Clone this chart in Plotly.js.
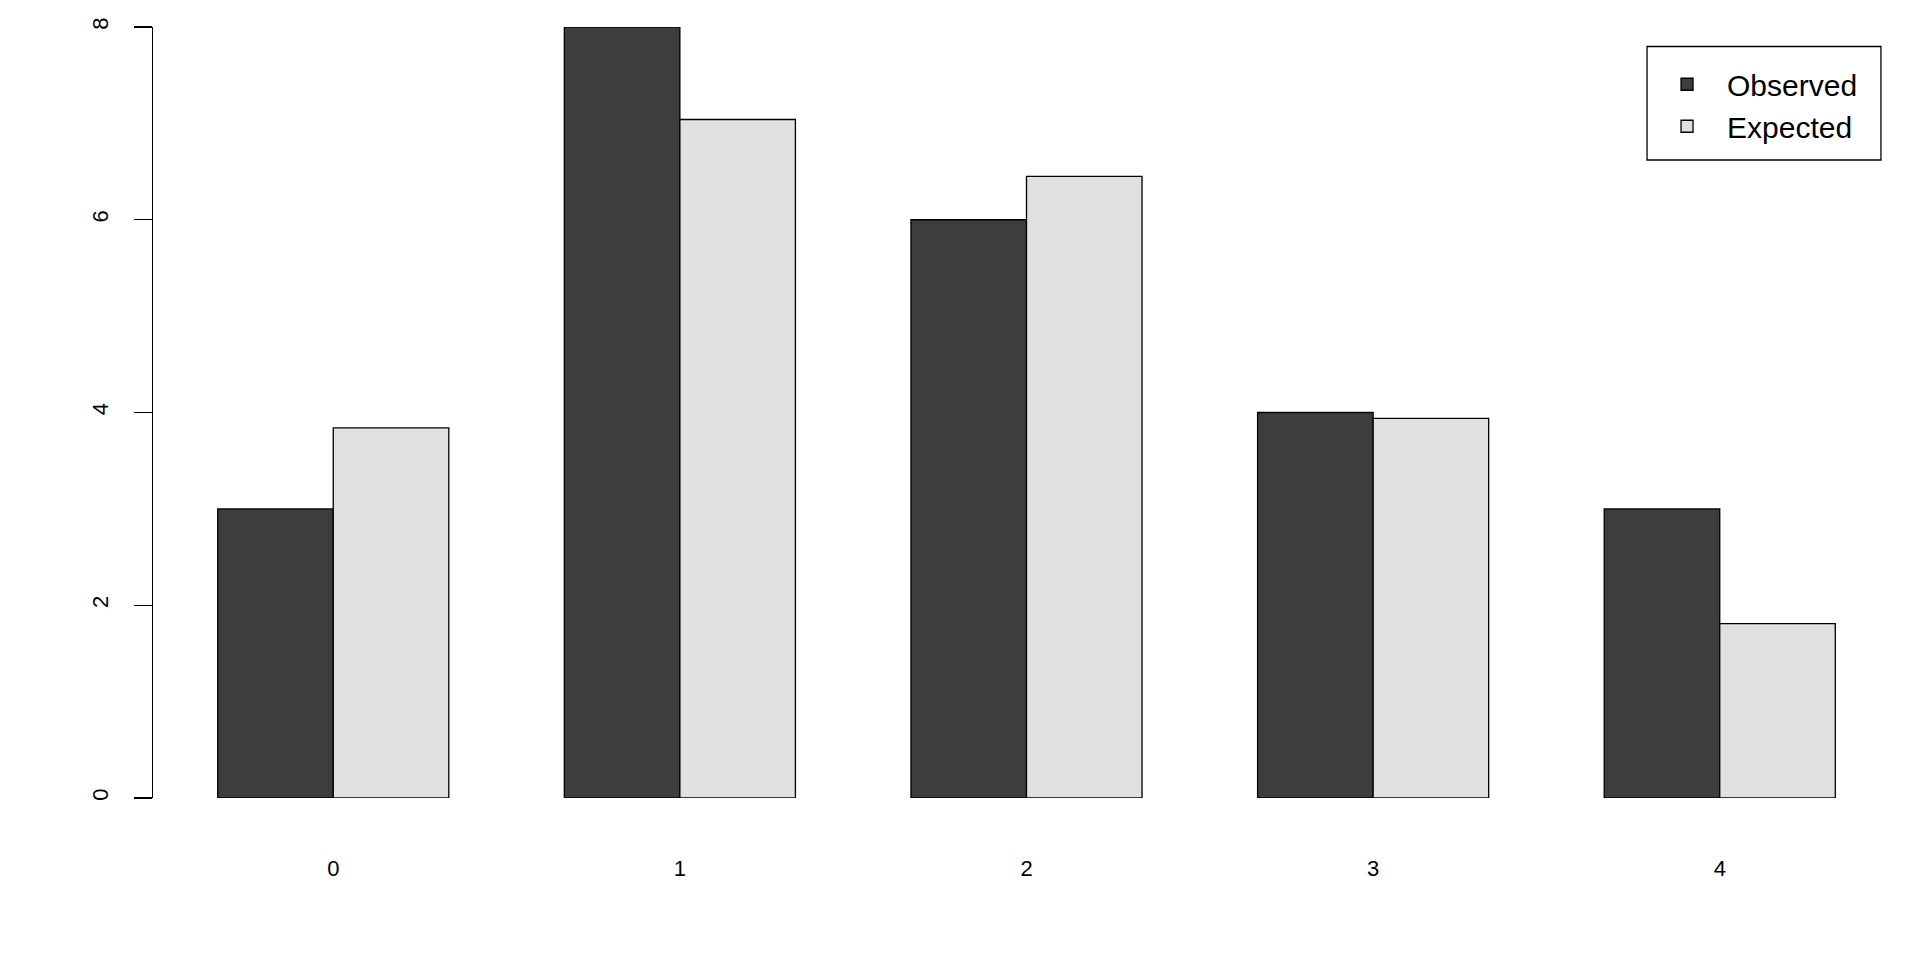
<!DOCTYPE html>
<html>
<head>
<meta charset="utf-8">
<script src="https://cdn.plot.ly/plotly-3.0.1.min.js"></script>
<style>html,body{margin:0;padding:0;background:#fff;}#chart{width:1920px;height:960px;}</style>
</head>
<body>
<div id="chart"></div>
<script>
const categories = ["0", "1", "2", "3", "4"];
const observed = [3, 8, 6, 4, 3];
const expected = [3.84, 7.04, 6.45, 3.94, 1.81];
const yTicks = [0, 2, 4, 6, 8];

const traces = [
  {type: "bar", name: "Observed", x: categories, y: observed,
   marker: {color: "#3d3d3d", line: {color: "#000", width: 1.3}}},
  {type: "bar", name: "Expected", x: categories, y: expected,
   marker: {color: "#e0e0e0", line: {color: "#000", width: 1.3}}}
];

const layout = {
  width: 1920, height: 960,
  margin: {l: 153, r: 20, t: 27, b: 162},
  paper_bgcolor: "#fff", plot_bgcolor: "#fff",
  barmode: "group", bargap: 1/3, bargroupgap: 0,
  font: {family: "Liberation Sans, Arial, sans-serif", color: "#000"},
  xaxis: {type: "category", range: [-0.52, 4.52], showline: false, ticks: "",
          showgrid: false, zeroline: false, tickfont: {size: 22},
          ticklabelstandoff: 55},
  yaxis: {range: [0, 8], tickvals: yTicks, ticktext: yTicks.map(String),
          showline: true, linecolor: "#000", linewidth: 1.3,
          ticks: "outside", ticklen: 18, tickwidth: 1.3, tickcolor: "#000",
          tickangle: -90, tickfont: {size: 22}, showgrid: false, zeroline: false,
          ticklabelstandoff: 17},
  showlegend: true,
  legend: {x: 0.8552, y: 0.9595, xanchor: "left", yanchor: "top",
           borderwidth: 0, bgcolor: "rgba(0,0,0,0)", itemwidth: 70,
           font: {size: 30}, traceorder: "normal"},
  shapes: [{type: "rect", xref: "paper", yref: "paper",
            x0: 0.8552, x1: 0.9891, y0: 0.8275, y1: 0.9747,
            line: {color: "#000", width: 1.3}, fillcolor: "rgba(0,0,0,0)", layer: "above"}]
};

Plotly.newPlot("chart", traces, layout, {displayModeBar: false, staticPlot: true});
</script>
</body>
</html>
